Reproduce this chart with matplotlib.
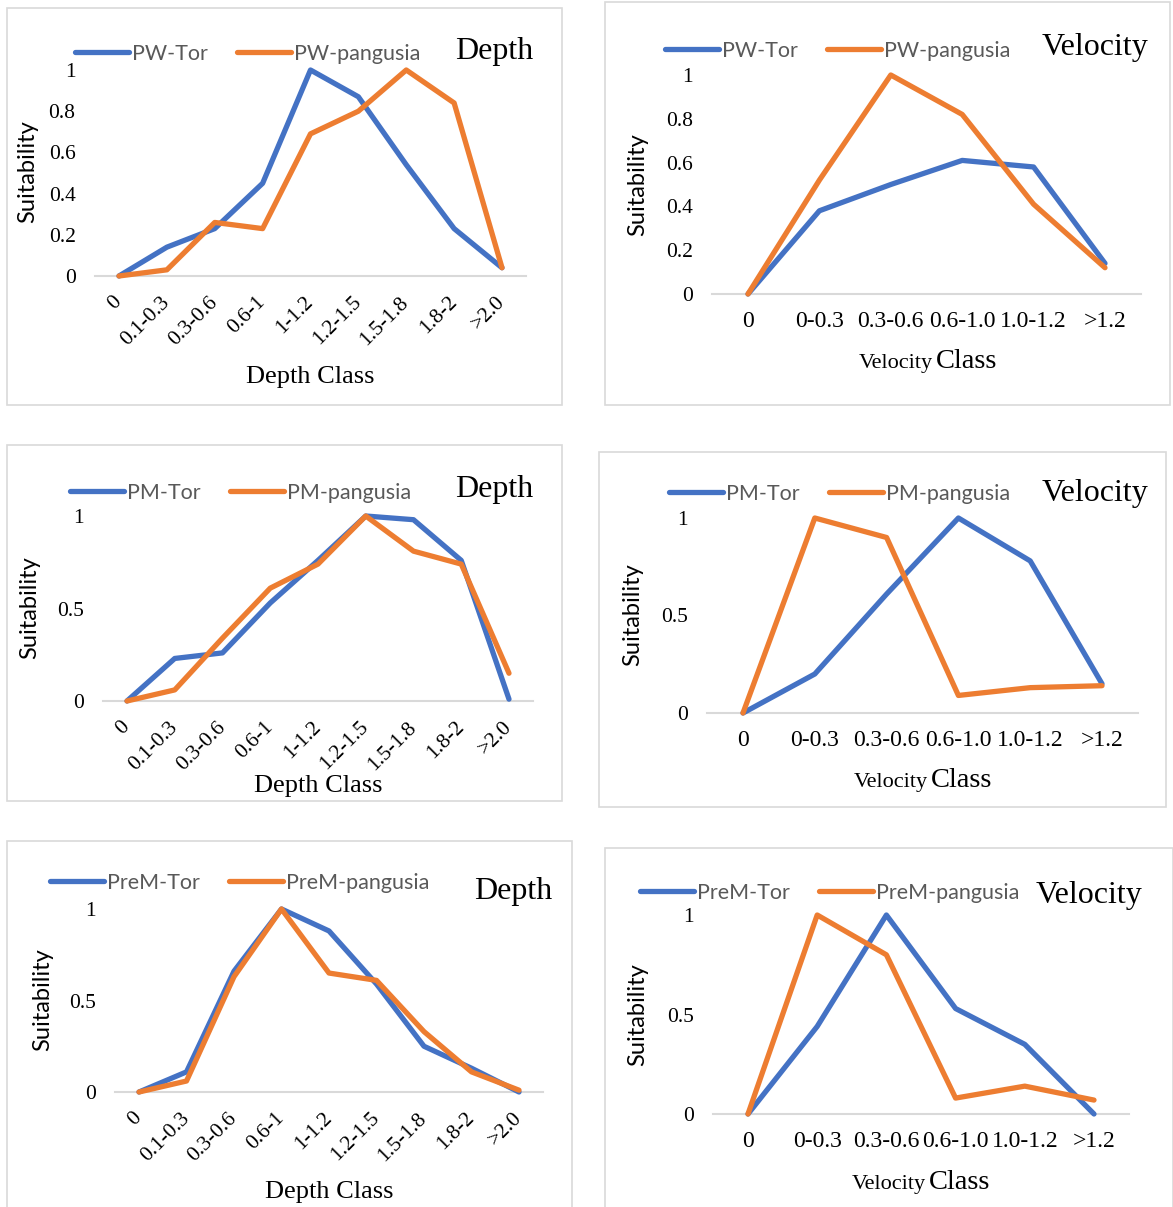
import matplotlib
matplotlib.use("Agg")
import matplotlib.pyplot as plt
from matplotlib.patches import Rectangle
from matplotlib.lines import Line2D

# category labels
depth_classes = ["0", "0.1-0.3", "0.3-0.6", "0.6-1", "1-1.2", "1.2-1.5", "1.5-1.8", "1.8-2", ">2.0"]
velocity_classes = ["0", "0-0.3", "0.3-0.6", "0.6-1.0", "1.0-1.2", ">1.2"]

# suitability values
pw_tor_depth = [0, 0.14, 0.23, 0.45, 1.0, 0.87, 0.54, 0.23, 0.04]
pw_pang_depth = [0, 0.03, 0.26, 0.23, 0.69, 0.80, 1.0, 0.84, 0.04]
pw_tor_vel = [0, 0.38, 0.50, 0.61, 0.58, 0.14]
pw_pang_vel = [0, 0.52, 1.0, 0.82, 0.41, 0.12]

pm_tor_depth = [0, 0.23, 0.26, 0.53, 0.76, 1.0, 0.98, 0.76, 0.01]
pm_pang_depth = [0, 0.06, 0.34, 0.61, 0.74, 1.0, 0.81, 0.74, 0.15]
pm_tor_vel = [0, 0.20, 0.61, 1.0, 0.78, 0.15]
pm_pang_vel = [0, 1.0, 0.90, 0.09, 0.13, 0.14]

prem_tor_depth = [0, 0.11, 0.66, 1.0, 0.88, 0.59, 0.25, 0.13, 0.0]
prem_pang_depth = [0, 0.06, 0.63, 1.0, 0.65, 0.61, 0.33, 0.11, 0.01]
prem_tor_vel = [0, 0.44, 1.0, 0.53, 0.35, 0.0]
prem_pang_vel = [0, 1.0, 0.80, 0.08, 0.14, 0.07]

BLUE = "#4472C4"
ORANGE = "#ED7D31"
SERIF = "Liberation Serif"
SANS = "Lato"

W, H = 1173, 1207
fig = plt.figure(figsize=(W / 100, H / 100), dpi=100)


def fx(x):
    return x / W


def fy(y):
    return 1 - y / H


def panel(box, x0, x1, y0, y1, cats, tor, pang, prefix, title, kind,
          leg_x, leg_y, title_x, title_y, ylab_x, ylab_y, xlab_x, xlab_y, yticks):
    # chart border
    bx0, by0, bx1, by1 = box
    fig.patches.append(Rectangle((fx(bx0), fy(by1)), fx(bx1 - bx0), (by1 - by0) / H,
                                 transform=fig.transFigure, fill=False,
                                 edgecolor="#d9d9d9", lw=1.2))
    n = len(cats)
    step = (x1 - x0) / (n - 1)
    left = x0 - step / 2
    right = x1 + step / 2
    ax = fig.add_axes([fx(left), fy(y0), (right - left) / W, (y0 - y1) / H])
    ax.set_facecolor("none")
    xs = list(range(n))
    ax.plot(xs, tor, color=BLUE, lw=3.8, solid_joinstyle="round",
            solid_capstyle="round", clip_on=False, zorder=3)
    ax.plot(xs, pang, color=ORANGE, lw=3.8, solid_joinstyle="round",
            solid_capstyle="round", clip_on=False, zorder=4)
    ax.set_xlim(-0.5, n - 0.5)
    ax.set_ylim(0, 1)
    for s in ["top", "right", "left"]:
        ax.spines[s].set_visible(False)
    ax.spines["bottom"].set_color("#d9d9d9")
    ax.spines["bottom"].set_linewidth(1.5)
    ax.set_yticks(yticks)
    ax.set_yticklabels([("%g" % v) for v in yticks], fontfamily=SERIF, fontsize=15.5)
    ax.tick_params(axis="y", length=0, pad=14)
    ax.set_xticks(xs)
    if kind == "Depth":
        ax.set_xticklabels(cats, rotation=45, ha="right", va="center",
                           rotation_mode="anchor", fontfamily=SERIF, fontsize=15.5)
        ax.tick_params(axis="x", length=0, pad=17)
        fig.text(fx(xlab_x), fy(xlab_y), "Depth Class", fontfamily=SERIF,
                 fontsize=19, ha="center", va="baseline")
    else:
        ax.set_xticklabels(cats, fontfamily=SERIF, fontsize=17)
        ax.tick_params(axis="x", length=0, pad=12)
        fig.text(fx(xlab_x), fy(xlab_y), "Velocity", fontfamily=SERIF,
                 fontsize=16, ha="right", va="baseline")
        fig.text(fx(xlab_x + 3), fy(xlab_y), "Class", fontfamily=SERIF,
                 fontsize=20.5, ha="left", va="baseline")
    fig.text(fx(ylab_x), fy(ylab_y), "Suitability", fontfamily=SANS, fontsize=17,
             rotation=90, ha="center", va="center")
    fig.text(fx(title_x), fy(title_y), title, fontfamily=SERIF, fontsize=23,
             ha="left", va="center")
    handles = [Line2D([], [], color=BLUE, lw=3.8, solid_capstyle="round"),
               Line2D([], [], color=ORANGE, lw=3.8, solid_capstyle="round")]
    ax.legend(handles, [prefix + "-Tor", prefix + "-pangusia"], ncol=2,
              loc="center left", bbox_to_anchor=(fx(leg_x), fy(leg_y)),
              bbox_transform=fig.transFigure, frameon=False, borderpad=0,
              borderaxespad=0, handlelength=2.5, handletextpad=0.15,
              columnspacing=1.35, labelcolor="#595959",
              prop={"family": SANS, "size": 15.5})
    return ax


panel((7, 8, 562, 405), 119, 502, 276, 70, depth_classes, pw_tor_depth, pw_pang_depth,
      "PW", "Depth", "Depth", 75, 54, 455, 52, 28, 172, 310, 383,
      [0, 0.2, 0.4, 0.6, 0.8, 1])
panel((605, 2, 1170, 405), 748, 1105, 294, 75, velocity_classes, pw_tor_vel, pw_pang_vel,
      "PW", "Velocity", "Velocity", 665, 51, 1042, 48, 638, 185, 933, 368,
      [0, 0.2, 0.4, 0.6, 0.8, 1])
panel((7, 445, 562, 801), 127, 509, 701, 516, depth_classes, pm_tor_depth, pm_pang_depth,
      "PM", "Depth", "Depth", 70, 493, 455, 490, 30, 608, 318, 792,
      [0, 0.5, 1])
panel((599, 452, 1166, 807), 743, 1102, 713, 518, velocity_classes, pm_tor_vel, pm_pang_vel,
      "PM", "Velocity", "Velocity", 669, 494, 1042, 494, 633, 615, 928, 787,
      [0, 0.5, 1])
panel((7, 841, 572, 1230), 139, 519, 1092, 909, depth_classes, prem_tor_depth, prem_pang_depth,
      "PreM", "Depth", "Depth", 50, 883, 474, 892, 43, 1000, 329, 1198,
      [0, 0.5, 1])
panel((605, 848, 1173, 1230), 748, 1094, 1114, 915, velocity_classes, prem_tor_vel, prem_pang_vel,
      "PreM", "Velocity", "Velocity", 640, 893, 1036, 895, 638, 1015, 926, 1189,
      [0, 0.5, 1])

fig.savefig("out.png", dpi=100, facecolor="white")
